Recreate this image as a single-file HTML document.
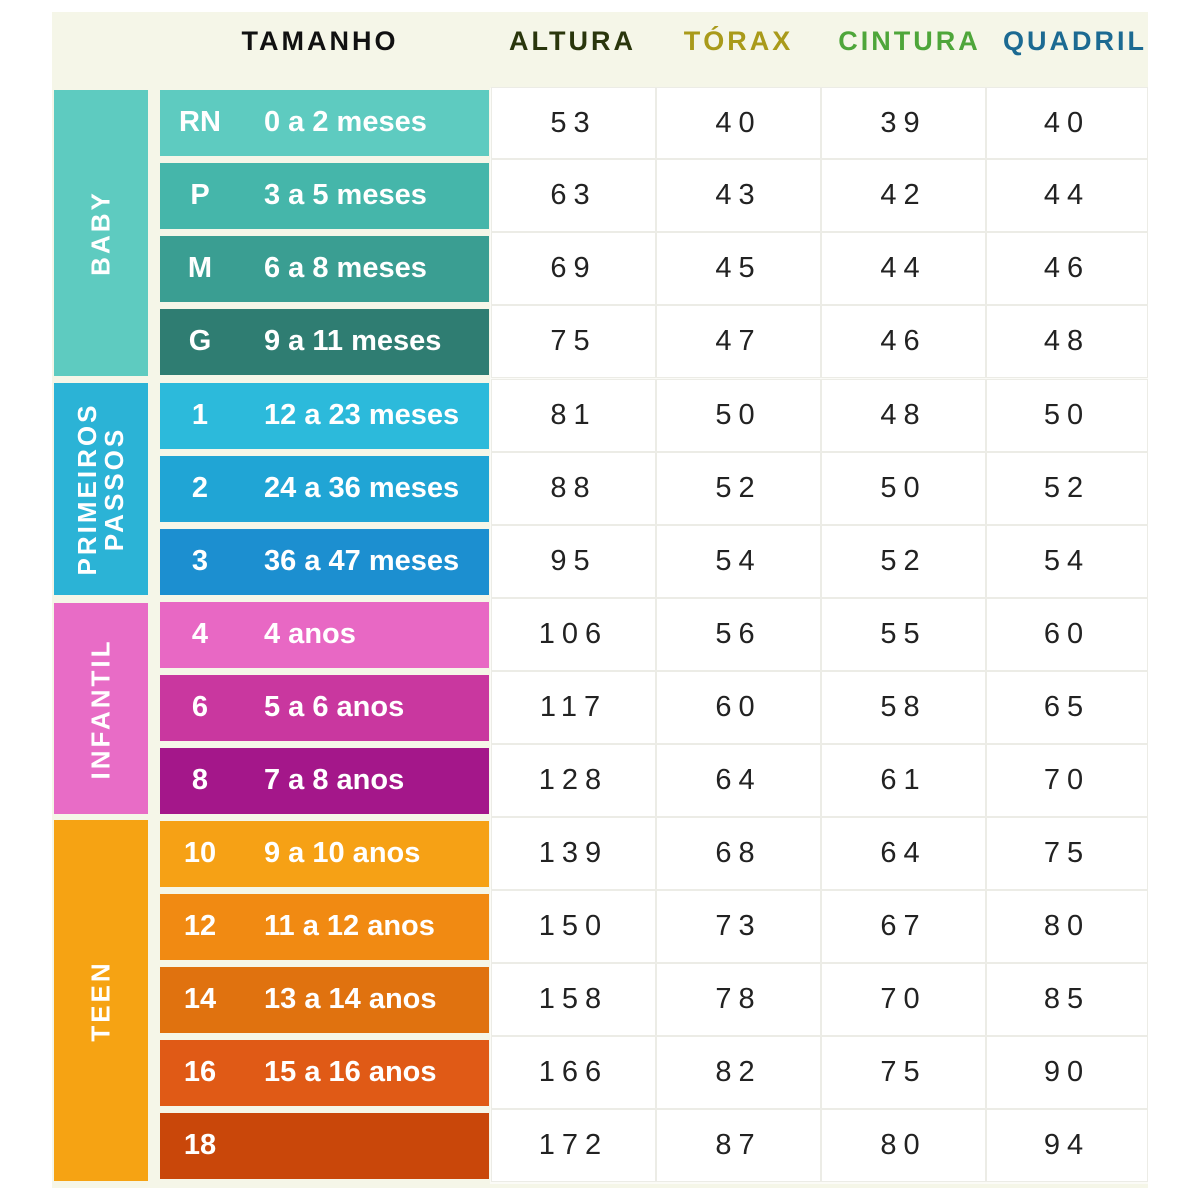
<!DOCTYPE html>
<html><head><meta charset="utf-8"><style>
body{margin:0;width:1200px;height:1200px;background:#fff;position:relative;overflow:hidden;font-family:"Liberation Sans",sans-serif}
.panel{position:absolute;left:52px;top:12px;width:1096px;height:1176px;background:#f5f6e8}
.wh{position:absolute;left:490px;top:88px;width:658px;height:1096px;background:#fbfbf7}
.h{position:absolute;top:26px;font-weight:bold;font-size:27px;letter-spacing:3px;text-align:center}
.g{position:absolute;left:54px;width:94px;color:#fff;font-weight:bold;font-size:26px;letter-spacing:3px}
.g span{position:absolute;left:50%;top:50%;transform:translate(-50%,-50%) rotate(-90deg);white-space:nowrap;text-align:center;line-height:27px}
.r{position:absolute;left:160px;width:329px;height:66px;color:#fff;font-weight:bold;font-size:29px}
.r .a{position:absolute;left:0;width:80px;text-align:center;top:16px}
.r .b{position:absolute;left:104px;top:16px}
.c{position:absolute;height:66px;background:#fff;font-size:29px;letter-spacing:7px;color:#222;text-align:center;line-height:66px;box-shadow:0 0 0 1px #ececE6}
</style></head><body>
<div class="panel"></div>
<div class="wh"></div>
<div class="h" style="left:200px;width:240px;color:#111">TAMANHO</div>
<div class="h" style="left:490px;width:165px;color:#2a360c">ALTURA</div>
<div class="h" style="left:657px;width:163px;color:#a99a1a">TÓRAX</div>
<div class="h" style="left:822px;width:175px;color:#4ea63a">CINTURA</div>
<div class="h" style="left:990px;width:170px;color:#1c6a92">QUADRIL</div>

<div class="g" style="top:90px;height:286px;background:#5ecbc0"><span>BABY</span></div>
<div class="g" style="top:383px;height:212px;background:#2bb3d6"><span>PRIMEIROS<br>PASSOS</span></div>
<div class="g" style="top:603px;height:211px;background:#e86cc6"><span>INFANTIL</span></div>
<div class="g" style="top:820px;height:361px;background:#f6a313"><span>TEEN</span></div>

<div class="r" style="top:90px;background:#5ecbc0"><div class="a">RN</div><div class="b">0 a 2 meses</div></div>
<div class="r" style="top:163px;background:#45b6aa"><div class="a">P</div><div class="b">3 a 5 meses</div></div>
<div class="r" style="top:236px;background:#3a9e92"><div class="a">M</div><div class="b">6 a 8 meses</div></div>
<div class="r" style="top:309px;background:#2f7d72"><div class="a">G</div><div class="b">9 a 11 meses</div></div>
<div class="r" style="top:383px;background:#2cbadb"><div class="a">1</div><div class="b">12 a 23 meses</div></div>
<div class="r" style="top:456px;background:#20a5d5"><div class="a">2</div><div class="b">24 a 36 meses</div></div>
<div class="r" style="top:529px;background:#1c8fd0"><div class="a">3</div><div class="b">36 a 47 meses</div></div>
<div class="r" style="top:602px;background:#e868c4"><div class="a">4</div><div class="b">4 anos</div></div>
<div class="r" style="top:675px;background:#c9379f"><div class="a">6</div><div class="b">5 a 6 anos</div></div>
<div class="r" style="top:748px;background:#a4178a"><div class="a">8</div><div class="b">7 a 8 anos</div></div>
<div class="r" style="top:821px;background:#f6a115"><div class="a">10</div><div class="b">9 a 10 anos</div></div>
<div class="r" style="top:894px;background:#f18a12"><div class="a">12</div><div class="b">11 a 12 anos</div></div>
<div class="r" style="top:967px;background:#e0720f"><div class="a">14</div><div class="b">13 a 14 anos</div></div>
<div class="r" style="top:1040px;background:#e05a16"><div class="a">16</div><div class="b">15 a 16 anos</div></div>
<div class="r" style="top:1113px;background:#c9470a"><div class="a">18</div><div class="b"></div></div>

<div>
<div class="c" style="left:492px;top:88px;width:163px;height:70px;line-height:70px">53</div><div class="c" style="left:657px;top:88px;width:163px;height:70px;line-height:70px">40</div><div class="c" style="left:822px;top:88px;width:163px;height:70px;line-height:70px">39</div><div class="c" style="left:987px;top:88px;width:160px;height:70px;line-height:70px">40</div>
</div>
<div id="rows"></div>
<style>.c2{height:71px;line-height:71px}</style>
<div>
<div class="c c2" style="left:492px;top:160px;width:163px">63</div><div class="c c2" style="left:657px;top:160px;width:163px">43</div><div class="c c2" style="left:822px;top:160px;width:163px">42</div><div class="c c2" style="left:987px;top:160px;width:160px">44</div>
<div class="c c2" style="left:492px;top:233px;width:163px">69</div><div class="c c2" style="left:657px;top:233px;width:163px">45</div><div class="c c2" style="left:822px;top:233px;width:163px">44</div><div class="c c2" style="left:987px;top:233px;width:160px">46</div>
<div class="c c2" style="left:492px;top:306px;width:163px">75</div><div class="c c2" style="left:657px;top:306px;width:163px">47</div><div class="c c2" style="left:822px;top:306px;width:163px">46</div><div class="c c2" style="left:987px;top:306px;width:160px">48</div>
<div class="c c2" style="left:492px;top:380px;width:163px">81</div><div class="c c2" style="left:657px;top:380px;width:163px">50</div><div class="c c2" style="left:822px;top:380px;width:163px">48</div><div class="c c2" style="left:987px;top:380px;width:160px">50</div>
<div class="c c2" style="left:492px;top:453px;width:163px">88</div><div class="c c2" style="left:657px;top:453px;width:163px">52</div><div class="c c2" style="left:822px;top:453px;width:163px">50</div><div class="c c2" style="left:987px;top:453px;width:160px">52</div>
<div class="c c2" style="left:492px;top:526px;width:163px">95</div><div class="c c2" style="left:657px;top:526px;width:163px">54</div><div class="c c2" style="left:822px;top:526px;width:163px">52</div><div class="c c2" style="left:987px;top:526px;width:160px">54</div>
<div class="c c2" style="left:492px;top:599px;width:163px">106</div><div class="c c2" style="left:657px;top:599px;width:163px">56</div><div class="c c2" style="left:822px;top:599px;width:163px">55</div><div class="c c2" style="left:987px;top:599px;width:160px">60</div>
<div class="c c2" style="left:492px;top:672px;width:163px">117</div><div class="c c2" style="left:657px;top:672px;width:163px">60</div><div class="c c2" style="left:822px;top:672px;width:163px">58</div><div class="c c2" style="left:987px;top:672px;width:160px">65</div>
<div class="c c2" style="left:492px;top:745px;width:163px">128</div><div class="c c2" style="left:657px;top:745px;width:163px">64</div><div class="c c2" style="left:822px;top:745px;width:163px">61</div><div class="c c2" style="left:987px;top:745px;width:160px">70</div>
<div class="c c2" style="left:492px;top:818px;width:163px">139</div><div class="c c2" style="left:657px;top:818px;width:163px">68</div><div class="c c2" style="left:822px;top:818px;width:163px">64</div><div class="c c2" style="left:987px;top:818px;width:160px">75</div>
<div class="c c2" style="left:492px;top:891px;width:163px">150</div><div class="c c2" style="left:657px;top:891px;width:163px">73</div><div class="c c2" style="left:822px;top:891px;width:163px">67</div><div class="c c2" style="left:987px;top:891px;width:160px">80</div>
<div class="c c2" style="left:492px;top:964px;width:163px">158</div><div class="c c2" style="left:657px;top:964px;width:163px">78</div><div class="c c2" style="left:822px;top:964px;width:163px">70</div><div class="c c2" style="left:987px;top:964px;width:160px">85</div>
<div class="c c2" style="left:492px;top:1037px;width:163px">166</div><div class="c c2" style="left:657px;top:1037px;width:163px">82</div><div class="c c2" style="left:822px;top:1037px;width:163px">75</div><div class="c c2" style="left:987px;top:1037px;width:160px">90</div>
<div class="c c2" style="left:492px;top:1110px;width:163px">172</div><div class="c c2" style="left:657px;top:1110px;width:163px">87</div><div class="c c2" style="left:822px;top:1110px;width:163px">80</div><div class="c c2" style="left:987px;top:1110px;width:160px">94</div>
</div>
</body></html>
